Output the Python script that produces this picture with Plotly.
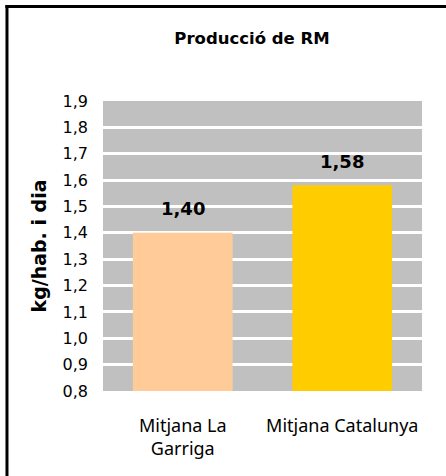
import plotly.graph_objects as go

# Producció de residus municipals (kg/hab. i dia)
categories = ["Mitjana La<br>Garriga", "Mitjana Catalunya"]
values = [1.40, 1.58]
bar_colors = ["#FFCC99", "#FFCC00"]
y_ticks = [0.8, 0.9, 1.0, 1.1, 1.2, 1.3, 1.4, 1.5, 1.6, 1.7, 1.8, 1.9]

BOLD = "DejaVu Sans"

fig = go.Figure(
    go.Bar(
        x=categories, y=values,
        marker=dict(color=bar_colors, line=dict(width=0)),
        hoverinfo="skip",
    )
)

# value labels above the bars
for cat, val in zip(categories, values):
    fig.add_annotation(
        x=cat, y=val, text=f"<b>{val:.2f}</b>".replace(".", ","),
        showarrow=False, yshift=24, yanchor="middle",
        font=dict(family=BOLD, size=18, color="#000000"),
    )

# chart frame: only the top and left sides are inside the picture
frame = dict(color="#000000", width=3)
fig.add_shape(type="line", xref="paper", yref="paper",
              x0=-0.306, x1=1.2, y0=1.326, y1=1.326, line=frame)
fig.add_shape(type="line", xref="paper", yref="paper",
              x0=-0.301, x1=-0.301, y0=-0.6, y1=1.331, line=frame)

fig.update_layout(
    width=446, height=476,
    margin=dict(l=103, r=24, t=101, b=85),
    paper_bgcolor="#FFFFFF",
    plot_bgcolor="#C0C0C0",
    separators=",.",
    bargap=0.375,
    showlegend=False,
    title=dict(
        text="<b>Producció de RM</b>",
        xref="container", yref="container",
        x=252 / 446, y=1 - 38 / 476, xanchor="center", yanchor="middle",
        font=dict(family=BOLD, size=16.5, color="#000000"),
    ),
)

fig.update_yaxes(
    range=[0.8, 1.9], tickvals=y_ticks, tickformat=".1f",
    showgrid=True, gridcolor="#FFFFFF", gridwidth=3,
    zeroline=False, showline=False, ticks="",
    ticklabelstandoff=14,
    tickfont=dict(family=BOLD, size=16, color="#000000"),
    title=dict(text="<b>kg/hab. i dia</b>", standoff=10,
               font=dict(family=BOLD, size=19, color="#000000")),
)
fig.update_xaxes(
    showgrid=False, showline=False, ticks="",
    ticklabelstandoff=22,
    tickfont=dict(family="Noto Sans", size=18, color="#000000"),
)

# drop the default page margin and scrollbars so the figure fills the window
fig.write_html(
    "out.html",
    config={"displayModeBar": False},
    post_script=(
        "document.body.style.margin = '0';"
        "document.documentElement.style.overflow = 'hidden';"
        "document.body.style.overflow = 'hidden';"
    ),
)
